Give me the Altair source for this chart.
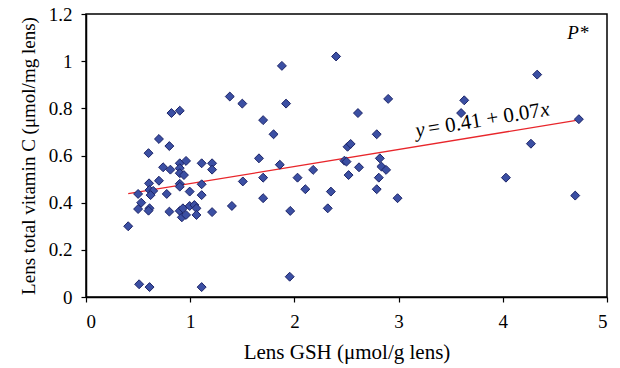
import altair as alt
import pandas as pd

gsh = [0.405, 0.50, 0.53, 0.50, 0.51, 0.60, 0.605, 0.61, 0.645, 0.62, 0.61, 0.60, 0.61,
       0.70, 0.70, 0.74, 0.775, 0.80, 0.80, 0.81, 0.82, 0.90, 0.90, 0.96, 0.90, 0.90,
       0.94, 0.90, 0.90, 0.90, 0.93, 0.92, 0.96, 0.995, 0.995, 1.04, 1.06, 1.06, 1.11,
       1.11, 1.11, 1.11, 1.21, 1.21, 1.21, 1.38, 1.40, 1.50, 1.505, 1.66, 1.70, 1.70,
       1.70, 1.80, 1.86, 1.88, 1.92, 1.96, 1.955, 2.03, 2.105, 2.18, 2.32, 2.35, 2.40,
       2.48, 2.50, 2.51, 2.54, 2.52, 2.61, 2.62, 2.79, 2.82, 2.835, 2.88, 2.81, 2.79,
       2.90, 2.99, 3.60, 3.63, 4.03, 4.27, 4.33, 4.695, 4.73]
vitc = [0.30, 0.437, 0.40, 0.373, 0.054, 0.61, 0.482, 0.454, 0.45, 0.432, 0.376, 0.366, 0.042,
        0.67, 0.493, 0.55, 0.437, 0.64, 0.362, 0.54, 0.78, 0.79, 0.567, 0.577, 0.546, 0.525,
        0.517, 0.48, 0.468, 0.365, 0.376, 0.338, 0.348, 0.447, 0.386, 0.39, 0.376, 0.348, 0.567,
        0.478, 0.432, 0.042, 0.567, 0.54, 0.36, 0.85, 0.386, 0.82, 0.49, 0.588, 0.75, 0.506,
        0.419, 0.69, 0.561, 0.98, 0.82, 0.365, 0.086, 0.506, 0.457, 0.539, 0.376, 0.447, 1.02,
        0.578, 0.574, 0.637, 0.649, 0.517, 0.78, 0.55, 0.69, 0.588, 0.553, 0.539, 0.506, 0.457,
        0.84, 0.419, 0.78, 0.834, 0.506, 0.65, 0.943, 0.43, 0.754]

fit_x = [0.405, 4.72]
fit_y = [0.438, 0.75]

pts = pd.DataFrame({"gsh": gsh, "vitc": vitc})
fit = pd.DataFrame({"gsh": fit_x, "vitc": fit_y})

FONT = "Liberation Serif"

xs = alt.Scale(domain=[0, 5], nice=False)
ys = alt.Scale(domain=[0, 1.2], nice=False)

xaxis = alt.Axis(values=[0, 1, 2, 3, 4, 5], format="d", title="Lens GSH (μmol/g lens)",
                 grid=False, tickSize=5, labelPadding=10, titlePadding=10, titleFontSize=21)
yaxis = alt.Axis(values=[0, 0.2, 0.4, 0.6, 0.8, 1.0, 1.2], format="~g",
                 title="Lens total vitamin C (μmol/mg lens)",
                 grid=False, tickSize=5, labelPadding=9, titlePadding=10, titleFontSize=19)

points = alt.Chart(pts).mark_point(
    shape="diamond", filled=True, size=80, fill="#3B4FA3", stroke="#1C2468",
    strokeWidth=1, opacity=1
).encode(
    x=alt.X("gsh:Q", scale=xs, axis=xaxis),
    y=alt.Y("vitc:Q", scale=ys, axis=yaxis),
)

line = alt.Chart(fit).mark_line(color="#E8262B", strokeWidth=1.3).encode(
    x=alt.X("gsh:Q", scale=xs),
    y=alt.Y("vitc:Q", scale=ys),
)

eq_pos = pd.DataFrame({"gsh": [3.82], "vitc": [0.75]})
EQ_SIZE = 21
EQ_ANGLE = 350.7

eq_mid = alt.Chart(eq_pos).mark_text(
    font=FONT, fontSize=EQ_SIZE, angle=EQ_ANGLE, align="center", baseline="middle",
    color="black", text="=\u00a00.41\u00a0+\u00a00.07"
).encode(x=alt.X("gsh:Q", scale=xs), y=alt.Y("vitc:Q", scale=ys))

eq_y = alt.Chart(eq_pos).mark_text(
    font=FONT, fontSize=EQ_SIZE, fontStyle="italic", angle=EQ_ANGLE, align="right",
    baseline="middle", color="black", text="y", dx=-60
).encode(x=alt.X("gsh:Q", scale=xs), y=alt.Y("vitc:Q", scale=ys))

eq_x = alt.Chart(eq_pos).mark_text(
    font=FONT, fontSize=EQ_SIZE, fontStyle="italic", angle=EQ_ANGLE, align="left",
    baseline="middle", color="black", text="x", dx=57
).encode(x=alt.X("gsh:Q", scale=xs), y=alt.Y("vitc:Q", scale=ys))

pstar = alt.Chart(pd.DataFrame({"gsh": [4.72], "vitc": [1.12], "t": ["P*"]})).mark_text(
    font=FONT, fontSize=19, fontStyle="italic", align="center", baseline="middle", color="black"
).encode(x=alt.X("gsh:Q", scale=xs), y=alt.Y("vitc:Q", scale=ys), text="t:N")

chart = alt.layer(line, points, eq_mid, eq_y, eq_x, pstar).properties(
    width=521, height=283,
    autosize=alt.AutoSizeParams(type="none"),
    padding={"left": 86, "top": 14, "right": 13, "bottom": 71},
    background="white",
).configure_view(
    stroke="black", strokeWidth=1.5
).configure_axis(
    labelFont=FONT, titleFont=FONT, labelFontSize=19,
    labelColor="black", titleColor="black", titleFontWeight="normal",
    domainColor="black", tickColor="black", domainWidth=1.5, tickWidth=1.2,
)

chart.save("out.html", embed_options={"renderer": "svg", "actions": False})
